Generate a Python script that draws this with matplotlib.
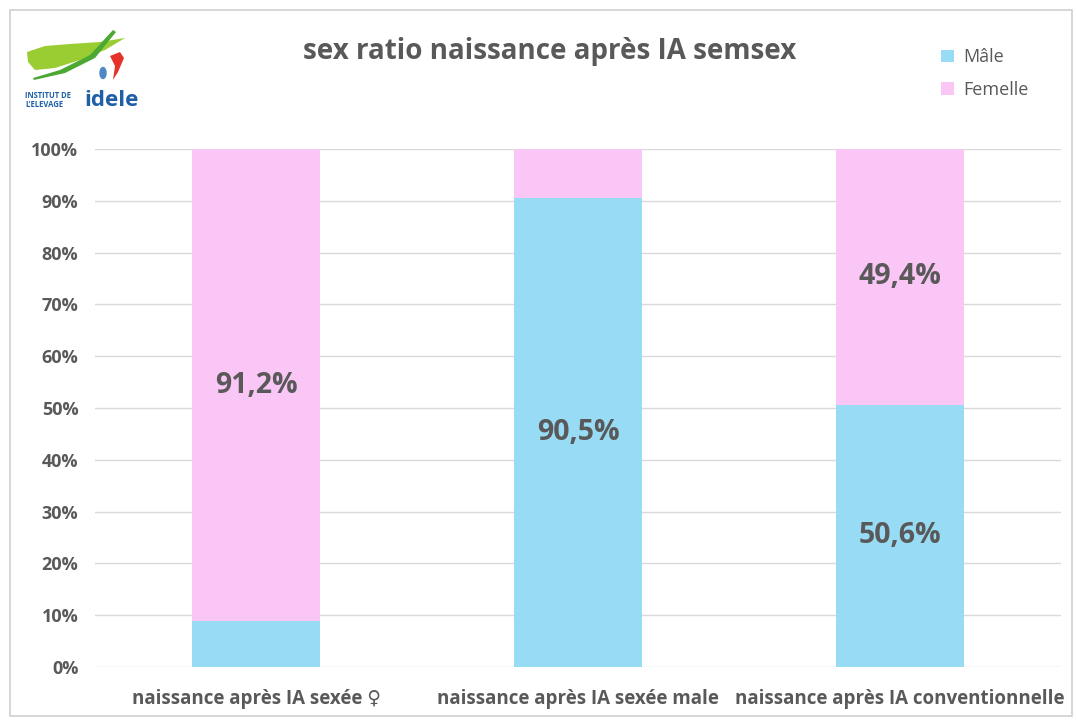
import matplotlib
matplotlib.use("Agg")
import matplotlib.pyplot as plt
from matplotlib.patches import Rectangle, Polygon, Ellipse
import numpy as np

categories = ["naissance après IA sexée ♀", "naissance après IA sexée male", "naissance après IA conventionnelle"]
male = [8.8, 90.5, 50.6]
female = [91.2, 9.5, 49.4]
male_labels = [None, "90,5%", "50,6%"]
female_labels = ["91,2%", None, "49,4%"]
yticks = [0, 10, 20, 30, 40, 50, 60, 70, 80, 90, 100]

plt.rcParams['font.family'] = ['Open Sans', 'DejaVu Sans']
grey = "#595959"
c_male = "#97DBF5"
c_female = "#F9C6F5"

W, H = 1076, 720
fig = plt.figure(figsize=(W/100, H/100), dpi=100)
fig.patch.set_facecolor("white")

# frame
fig.add_artist(Rectangle((10/W, 4/H), (W-14)/W, (H-14)/H, transform=fig.transFigure,
                         fill=False, edgecolor="#d0d0d0", linewidth=1.2))

ax = fig.add_axes([95/W, (H-667)/H, 966/W, 518/H])
x = np.arange(len(categories))
bw = 0.395
ax.bar(x, male, width=bw, color=c_male, zorder=3, label="Mâle")
ax.bar(x, female, width=bw, bottom=male, color=c_female, zorder=3, label="Femelle")

for i in range(len(categories)):
    if male_labels[i]:
        ax.text(x[i], male[i]/2, male_labels[i], ha="center", va="center",
                fontsize=20.5, fontweight="bold", color=grey, zorder=4)
    if female_labels[i]:
        ax.text(x[i], male[i] + female[i]/2, female_labels[i], ha="center", va="center",
                fontsize=20.5, fontweight="bold", color=grey, zorder=4)

ax.set_xlim(-0.5, len(categories) - 0.5)
ax.set_ylim(0, 100)
ax.set_yticks(yticks)
ax.set_yticklabels([f"{v}%" for v in yticks], fontsize=13, fontweight="bold", color=grey)
ax.set_xticks(x)
ax.set_xticklabels(categories, fontsize=13.5, fontweight="bold", color=grey)
ax.tick_params(axis="x", length=0, pad=16)
ax.tick_params(axis="y", length=0, pad=12)
ax.grid(axis="y", color="#d9d9d9", linewidth=1, zorder=0)
for s in ax.spines.values():
    s.set_visible(False)

fig.text(550/W, 1 - 52/H, "sex ratio naissance après IA semsex", ha="center", va="center",
         fontsize=20, fontweight="bold", color=grey)

leg = fig.legend(handles=ax.get_legend_handles_labels()[0], labels=["Mâle", "Femelle"],
                 loc="upper left", bbox_to_anchor=(925/W, 1 - 32/H), frameon=False,
                 fontsize=13, handlelength=0.7, handleheight=0.7, handletextpad=0.5,
                 labelspacing=0.8, labelcolor=grey)

# logo (approximate), pixel coordinates
lg = fig.add_axes([20/W, 1 - 118/H, 115/W, 93/H])
lg.set_xlim(20, 135); lg.set_ylim(118, 25); lg.axis("off")
lg.add_patch(Polygon([[27, 52], [45, 46], [70, 44], [100, 42], [125, 38], [105, 50],
                      [80, 60], [55, 68], [35, 70], [28, 62]], closed=True, color="#9ACD32", lw=0))
lg.add_patch(Polygon([[33, 78], [60, 70], [90, 55], [113, 30], [116, 32], [95, 58],
                      [65, 73], [34, 80]], closed=True, color="#4CA832", lw=0))
lg.add_patch(Polygon([[110, 56], [120, 52], [124, 58], [118, 72], [113, 80], [115, 66]],
                     closed=True, color="#E63329", lw=0))
lg.add_patch(Ellipse((103, 73), 6, 11, color="#4F86C6"))
lg.text(25, 100, "INSTITUT DE\nL'ELEVAGE", fontsize=5.5, fontweight="bold", color="#1F5FA8",
        va="center", ha="left", linespacing=1.0)
lg.text(84, 100, "idele", fontsize=16, fontweight="bold", color="#1F5FA8", va="center", ha="left")

fig.savefig("out.png", dpi=100)
